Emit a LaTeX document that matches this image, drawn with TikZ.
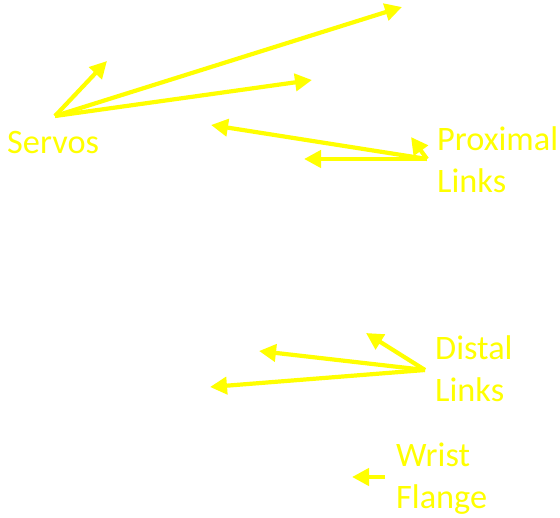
\documentclass[tikz,border=0pt]{standalone}
\usepackage{fontspec}
\setmainfont{Carlito}
\usetikzlibrary{arrows.meta}
\definecolor{lab}{RGB}{255,255,0}
\tikzset{
  lbl/.style={text=lab, font=\fontsize{34.3}{42.5}\selectfont, align=left, anchor=base west, inner sep=0pt},
  arr/.style={draw=lab, line width=4.2pt, -{Triangle[length=17pt,width=17pt]}}
}
\begin{document}
\begin{tikzpicture}[x=1pt,y=-1pt]
\useasboundingbox (0,0) rectangle (560,518);
% multi-line labels are placed by the baseline of their last line
\node[lbl] (servos) at (7,154) {Servos};
\node[lbl] (prox) at (437,193) {Proximal\\Links};
\node[lbl] (dist) at (435,402) {Distal\\Links};
\node[lbl] (wrist) at (396,509) {Wrist\\Flange};
% arrow origins
\coordinate (s0) at (55,116);
\coordinate (p0) at (427,159);
\coordinate (d0) at (425,370);
\coordinate (w0) at (385,477);
% arrow tips
\coordinate (s1) at (107,61);
\coordinate (s2) at (402,7);
\coordinate (s3) at (312,80);
\coordinate (p1) at (211,125);
\coordinate (p2) at (304,159);
\coordinate (p3) at (411,137);
\coordinate (d1) at (366,333);
\coordinate (d2) at (259,351);
\coordinate (d3) at (210,387);
\coordinate (w1) at (352,477);
\draw[arr] (s0) -- (s1);
\draw[arr] (s0) -- (s2);
\draw[arr] (s0) -- (s3);
\draw[arr] (p0) -- (p1);
\draw[arr] (p0) -- (p2);
\draw[arr] (p0) -- (p3);
\draw[arr] (d0) -- (d1);
\draw[arr] (d0) -- (d2);
\draw[arr] (d0) -- (d3);
\draw[arr] (w0) -- (w1);
\end{tikzpicture}
\end{document}
